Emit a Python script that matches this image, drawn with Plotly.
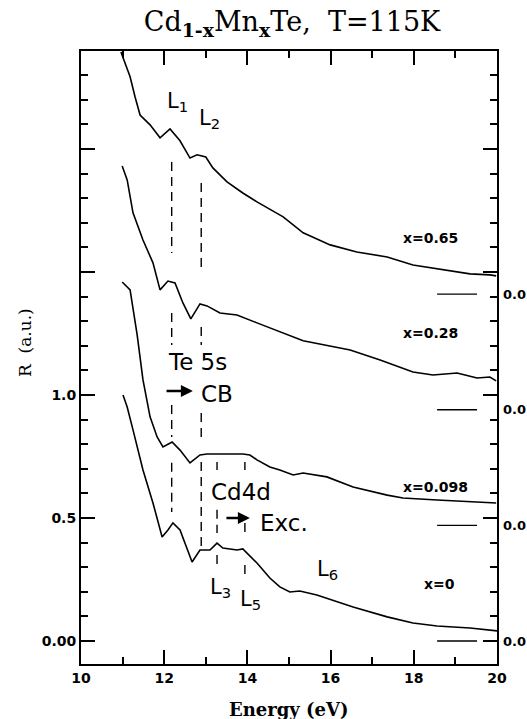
import plotly.graph_objects as go

# ---------------- data ----------------
compositions = ["x=0", "x=0.098", "x=0.28", "x=0.65"]
offsets = [0.0, 0.47, 0.94, 1.41]

energy_x0 = [11.01, 11.11, 11.25, 11.49, 11.73, 11.95, 12.09, 12.21, 12.38, 12.67, 12.86, 13.10,
             13.27, 13.41, 13.75, 13.89, 14.23, 14.54, 14.78, 15.02, 15.26, 15.67, 16.54, 17.36,
             17.98, 18.56, 19.35, 20.0]
refl_x0 = [1.000, 0.951, 0.858, 0.695, 0.561, 0.423, 0.451, 0.480, 0.451, 0.321, 0.370, 0.370,
           0.398, 0.378, 0.370, 0.374, 0.317, 0.256, 0.220, 0.199, 0.203, 0.187, 0.138, 0.098,
           0.073, 0.061, 0.053, 0.041]

energy_x0098 = [10.99, 11.18, 11.35, 11.49, 11.66, 11.83, 11.97, 12.19, 12.38, 12.62, 12.86, 13.03,
                13.34, 13.89, 14.06, 14.23, 14.54, 14.78, 15.10, 15.34, 15.91, 16.54, 17.36, 17.74,
                18.56, 19.35, 19.98]
refl_x0098 = [0.989, 0.957, 0.774, 0.591, 0.441, 0.359, 0.319, 0.339, 0.306, 0.254, 0.286, 0.290,
              0.290, 0.290, 0.286, 0.266, 0.237, 0.225, 0.205, 0.213, 0.197, 0.156, 0.123, 0.111,
              0.103, 0.095, 0.091]

energy_x028 = [10.99, 11.11, 11.25, 11.49, 11.73, 11.90, 12.09, 12.26, 12.45, 12.64, 12.86, 13.03,
               13.34, 13.75, 14.23, 14.78, 15.34, 16.47, 17.19, 17.98, 18.46, 19.04, 19.52, 19.83,
               19.98]
refl_x028 = [0.991, 0.934, 0.800, 0.690, 0.597, 0.487, 0.523, 0.515, 0.434, 0.369, 0.430, 0.422,
             0.393, 0.385, 0.353, 0.316, 0.280, 0.243, 0.202, 0.153, 0.141, 0.149, 0.129, 0.133,
             0.117]

energy_x065 = [10.96, 11.18, 11.30, 11.42, 11.66, 11.90, 12.14, 12.38, 12.62, 12.79, 13.00, 13.17,
               13.51, 13.89, 14.23, 14.54, 14.86, 15.34, 15.99, 16.63, 17.36, 17.98, 18.70, 19.35,
               19.83, 19.98]
refl_x065 = [0.984, 0.883, 0.801, 0.728, 0.688, 0.635, 0.671, 0.623, 0.553, 0.566, 0.557, 0.513,
             0.456, 0.411, 0.375, 0.346, 0.314, 0.249, 0.200, 0.171, 0.151, 0.118, 0.098, 0.082,
             0.078, 0.074]

curves = [(energy_x0, refl_x0), (energy_x0098, refl_x0098),
          (energy_x028, refl_x028), (energy_x065, refl_x065)]

# transition energies (eV) and the vertical extents of their dashed markers (R, a.u.)
transition_names = ["L1", "L2", "L3", "L5"]
transition_energy = [12.18, 12.89, 13.27, 13.94]
transition_segments = [
    [(1.947, 1.577), (1.333, 1.203), (0.959, 0.829), (0.724, 0.524)],
    [(1.862, 1.516), (1.276, 1.203), (0.927, 0.817), (0.728, 0.382)],
    [(0.728, 0.695), (0.533, 0.439), (0.350, 0.289)],
    [(0.728, 0.695), (0.480, 0.419), (0.309, 0.260)],
]

# composition label positions (eV, R)
comp_label_e = [18.61, 18.53, 18.39, 18.39]
comp_label_r = [0.232, 0.626, 1.252, 1.638]
zero_marker_e = [18.56, 19.52]

x_range = [10, 20]
y_range = [-0.0935, 2.398]
x_major = [10, 12, 14, 16, 18, 20]
x_major_text = ["10", "12", "14", "16", "18", "20"]
x_minor = [11, 13, 15, 17, 19]
y_major = [0.0, 0.5, 1.0, 1.5, 2.0]
y_major_text = ["0.00", "0.5", "1.0", "", ""]
y_minor = [0.1, 0.2, 0.3, 0.4, 0.6, 0.7, 0.8, 0.9, 1.1, 1.2, 1.3, 1.4, 1.6, 1.7, 1.8, 1.9,
           2.1, 2.2, 2.3]

# ---------------- figure ----------------
fig = go.Figure()
black = "black"

for (e, r), off in zip(curves, offsets):
    fig.add_trace(go.Scatter(x=e, y=[v + off for v in r], mode="lines",
                             line=dict(color=black, width=1.6), showlegend=False,
                             hoverinfo="skip"))

for en, segs in zip(transition_energy, transition_segments):
    for (y0, y1) in segs:
        fig.add_trace(go.Scatter(x=[en, en], y=[y0, y1], mode="lines",
                                 line=dict(color=black, width=1.4, dash="9px,6px"),
                                 showlegend=False, hoverinfo="skip"))

for off in offsets:
    fig.add_trace(go.Scatter(x=zero_marker_e, y=[off, off], mode="lines",
                             line=dict(color=black, width=1.4), showlegend=False,
                             hoverinfo="skip"))

# empty trace that carries the minor-tick axes
fig.add_trace(go.Scatter(x=[], y=[], xaxis="x2", yaxis="y2", showlegend=False,
                         hoverinfo="skip"))

ann = []
label_font = dict(family="DejaVu Sans", size=23, color=black)
bold_font = dict(family="DejaVu Sans", size=14, color=black)

for name, e, r in zip(compositions, comp_label_e, comp_label_r):
    ann.append(dict(x=e, y=r, xref="x", yref="y", text="<b>%s</b>" % name,
                    showarrow=False, font=bold_font, xanchor="center", yanchor="middle"))

for off in offsets:
    ann.append(dict(x=1, y=off, xref="paper", yref="y", text="<b>0.0</b>",
                    showarrow=False, font=dict(family="DejaVu Sans", size=13, color=black),
                    xanchor="left", yanchor="middle", xshift=4))

# L labels
for txt, e, r in [("L<sub>1</sub>", 12.02, 2.19), ("L<sub>2</sub>", 12.79, 2.12),
                  ("L<sub>3</sub>", 13.05, 0.215), ("L<sub>5</sub>", 13.77, 0.165),
                  ("L<sub>6</sub>", 15.63, 0.287)]:
    ann.append(dict(x=e, y=r, xref="x", yref="y", text=txt, showarrow=False,
                    font=dict(family="DejaVu Sans", size=21, color=black),
                    xanchor="left", yanchor="middle"))

for txt, e, r in [("Te 5s", 12.79, 1.135), ("CB", 13.28, 1.005),
                  ("Cd4d", 13.85, 0.607), ("Exc.", 14.89, 0.481)]:
    ann.append(dict(x=e, y=r, xref="x", yref="y", text=txt, showarrow=False,
                    font=label_font, xanchor="center", yanchor="middle"))

# arrows
for (x0, x1, yy) in [(12.02, 12.69, 1.016), (13.46, 14.06, 0.50)]:
    ann.append(dict(x=x1, y=yy, ax=x0, ay=yy, xref="x", yref="y", axref="x", ayref="y",
                    text="", showarrow=True, arrowhead=2, arrowsize=1.0, arrowwidth=2.4,
                    arrowcolor=black))

# axis titles
ann.append(dict(x=0.5, y=0, xref="paper", yref="paper", text="<b>Energy (eV)</b>",
                showarrow=False, yanchor="top", yshift=-33,
                font=dict(family="DejaVu Serif", size=18, color=black)))
ann.append(dict(x=-0.135, y=0.525, xref="paper", yref="paper", text="R&nbsp;&nbsp;(a.u.)",
                showarrow=False, textangle=-90, xanchor="center", yanchor="middle",
                font=dict(family="DejaVu Serif", size=17, color=black)))

axis_common = dict(showgrid=False, zeroline=False, showline=True, linecolor=black,
                   linewidth=2, mirror="ticks", ticks="inside", tickcolor=black,
                   tickwidth=1.5)

tick_font = dict(family="DejaVu Sans", size=14, color=black)

fig.update_layout(
    width=527, height=719,
    margin=dict(l=81, r=30, t=51, b=55),
    paper_bgcolor="white", plot_bgcolor="white",
    title=dict(text="Cd<sub><b>1-x</b></sub>Mn<sub><b>x</b></sub>Te,&nbsp;&nbsp;T=115K",
               x=292 / 527, xanchor="center", y=1 - 22 / 719, yanchor="middle",
               font=dict(family="DejaVu Serif", size=27, color=black)),
    xaxis=dict(range=x_range, tickmode="array", tickvals=x_major,
               ticktext=["<b>%s</b>" % t for t in x_major_text], tickfont=tick_font,
               ticklen=14, **axis_common),
    yaxis=dict(range=y_range, tickmode="array", tickvals=y_major,
               ticktext=["<b>%s</b>" % t if t else "" for t in y_major_text],
               tickfont=tick_font, ticklen=14, **axis_common),
    xaxis2=dict(range=x_range, overlaying="x", anchor="y2", side="bottom",
                tickmode="array", tickvals=x_minor, showticklabels=False, ticklen=7,
                **axis_common),
    yaxis2=dict(range=y_range, overlaying="y", anchor="x2", side="left",
                tickmode="array", tickvals=y_minor, showticklabels=False, ticklen=7,
                **axis_common),
    annotations=ann,
)

fig.write_html("out.html")
